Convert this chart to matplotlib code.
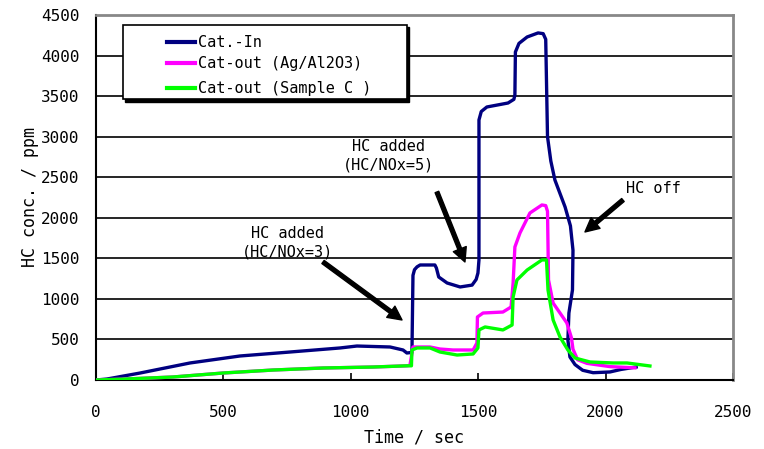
import matplotlib
matplotlib.use("Agg")
import matplotlib.pyplot as plt
from matplotlib.patches import Rectangle
from matplotlib.lines import Line2D

# === Data ===
time_in = [0, 43, 173, 369, 565, 761, 958, 1024, 1154, 1205, 1220, 1240, 1244, 1250, 1260, 1272, 1330,
           1336, 1345, 1378, 1429, 1476, 1492, 1499, 1503, 1503, 1512, 1534, 1617, 1640, 1644, 1646,
           1660, 1692, 1735, 1755, 1765, 1772, 1785, 1801, 1841, 1862, 1872, 1870, 1856, 1852, 1860,
           1880, 1910, 1951, 2017, 2060, 2120]
hc_in = [0, 12, 86, 210, 296, 345, 395, 419, 407, 370, 333, 340, 1290, 1360, 1395, 1418, 1418,
         1380, 1270, 1196, 1147, 1170, 1240, 1319, 1480, 3206, 3310, 3366, 3415, 3460, 3514, 4044,
         4150, 4229, 4279, 4270, 4200, 3000, 2700, 2466, 2133, 1900, 1600, 1110, 826, 493, 284,
         190, 120, 90, 99, 130, 160]

time_ag = [0, 100, 302, 498, 695, 891, 1087, 1220, 1232, 1244, 1311, 1350, 1401, 1480, 1495, 1497,
           1519, 1597, 1629, 1637, 1644, 1664, 1703, 1750, 1765, 1772, 1776, 1794, 1848, 1866, 1872,
           1890, 1927, 2017, 2115]
hc_ag = [0, 10, 37, 86, 123, 148, 160, 175, 180, 407, 407, 382, 370, 370, 456, 777,
         826, 838, 900, 1196, 1640, 1813, 2059, 2158, 2150, 2080, 1233, 949, 703, 520, 380,
         250, 205, 165, 150]

time_c = [0, 100, 302, 498, 695, 891, 1087, 1220, 1238, 1240, 1260, 1311, 1350, 1417, 1480, 1499,
          1503, 1527, 1597, 1633, 1637, 1652, 1692, 1750, 1768, 1774, 1794, 1821, 1852, 1880, 1939,
          2029, 2084, 2174]
hc_c = [0, 10, 37, 86, 123, 148, 160, 175, 175, 370, 395, 395, 345, 308, 321, 395,
        617, 654, 617, 678, 1023, 1233, 1356, 1480, 1480, 1110, 740, 530, 370, 271, 222,
        210, 210, 173]

labels = ["Cat.-In", "Cat-out (Ag/Al2O3)", "Cat-out (Sample C )"]
colors = ["#000080", "#FF00FF", "#00FF00"]

yticks = [0, 500, 1000, 1500, 2000, 2500, 3000, 3500, 4000, 4500]
xticks = [0, 500, 1000, 1500, 2000, 2500]

font = "DejaVu Sans Mono"
plt.rcParams['font.family'] = font

fig = plt.figure(figsize=(7.64, 4.49), dpi=100)
ax = fig.add_axes([96 / 764, 69 / 449, 637 / 764, 365 / 449])

ax.set_xlim(0, 2500)
ax.set_ylim(0, 4500)

# horizontal grid lines
for yv in yticks[1:-1]:
    ax.axhline(yv, color="black", lw=1.2, zorder=1)

ax.plot(time_in, hc_in, color=colors[0], lw=2.4, zorder=3, solid_joinstyle="round")
ax.plot(time_ag, hc_ag, color=colors[1], lw=2.4, zorder=4, solid_joinstyle="round")
ax.plot(time_c, hc_c, color=colors[2], lw=2.4, zorder=5, solid_joinstyle="round")

ax.set_xticks(xticks)
ax.set_yticks(yticks)
ax.tick_params(axis="x", direction="in", length=5, width=1.2, pad=18, labelsize=11.5)
ax.tick_params(axis="y", length=0, pad=12, labelsize=11.5)
ax.set_xlabel("Time / sec", fontsize=12, labelpad=6)

for s in ["left", "bottom"]:
    ax.spines[s].set_color("black")
    ax.spines[s].set_linewidth(1.5)
for s in ["top", "right"]:
    ax.spines[s].set_color("#888888")
    ax.spines[s].set_linewidth(2)

fig.text(30 / 764, 1 - 267 / 449, "HC conc. / ppm", rotation=90, ha="center", va="bottom",
         fontsize=12)

# === Annotations ===
arrow = dict(facecolor="black", edgecolor="black", width=2.8, headwidth=10, headlength=10, shrink=0)
ax.annotate("", xy=(1201, 740), xytext=(891, 1455), arrowprops=arrow, zorder=6)
ax.text(750, 1695, "HC added\n(HC/NOx=3)", ha="center", va="center", fontsize=11, linespacing=1.3)
ax.annotate("", xy=(1448, 1455), xytext=(1338, 2318), arrowprops=arrow, zorder=6)
ax.text(1146, 2768, "HC added\n(HC/NOx=5)", ha="center", va="center", fontsize=11, linespacing=1.3)
ax.annotate("", xy=(1919, 1825), xytext=(2068, 2219), arrowprops=arrow, zorder=6)
ax.text(2186, 2367, "HC off", ha="center", va="center", fontsize=11)

# === Legend box with shadow ===
x0, y0, x1, y1 = 0.042, 0.770, 0.488, 0.973
ax.add_patch(Rectangle((x0 + 0.004, y0 - 0.007), x1 - x0, y1 - y0, transform=ax.transAxes,
                       facecolor="black", edgecolor="black", zorder=7))
ax.add_patch(Rectangle((x0, y0), x1 - x0, y1 - y0, transform=ax.transAxes,
                       facecolor="white", edgecolor="black", lw=1.2, zorder=8))
rows = [0.926, 0.868, 0.800]
for lab, col, yy in zip(labels, colors, rows):
    ax.add_line(Line2D([0.111, 0.155], [yy, yy], transform=ax.transAxes, color=col, lw=3, zorder=9))
    ax.text(0.160, yy, lab, transform=ax.transAxes, ha="left", va="center", fontsize=11, zorder=9)

fig.savefig("out.png", dpi=100)
